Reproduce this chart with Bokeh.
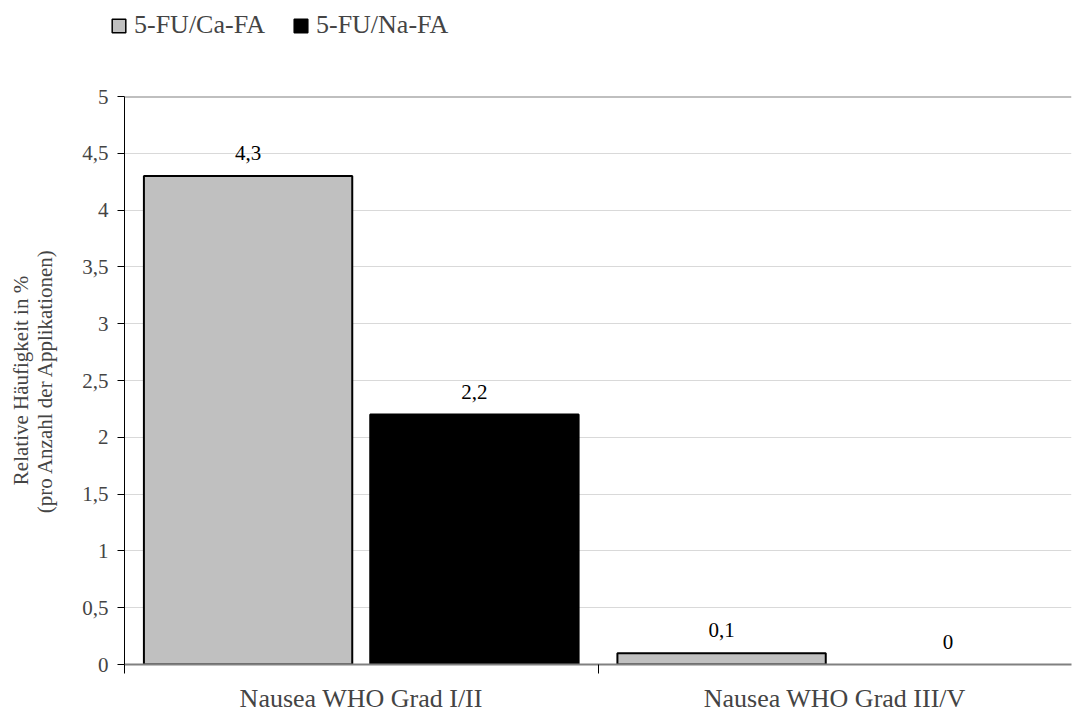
from bokeh.plotting import figure
from bokeh.layouts import column, row
from bokeh.models import (ColumnDataSource, FixedTicker, CustomJSTickFormatter,
                          Legend, LegendItem, Span, Range1d)
from bokeh.embed import file_html
from bokeh.resources import INLINE

# Data
categories = ["Nausea WHO Grad I/II", "Nausea WHO Grad III/V"]
series_names = ["5-FU/Ca-FA", "5-FU/Na-FA"]
series_colors = ["#c0c0c0", "black"]
ca_values = [4.3, 0.1]
na_values = [2.2, 0.0]
y_ticks = [0, 0.5, 1, 1.5, 2, 2.5, 3, 3.5, 4, 4.5, 5]

FONT = "Liberation Serif"
W = 1078
LEGEND_H = 80
offset = 0.239
bar_w = 0.44


def fmt(v):
    s = ("%.1f" % v).replace(".", ",")
    return s[:-2] if s.endswith(",0") else s


def make_source(values, shift):
    return ColumnDataSource(dict(
        x=[i + 0.5 + shift for i in range(len(values))],
        top=values,
        label=[fmt(v) for v in values],
        edge=["black" if v > 0 else None for v in values],
    ))


src_ca = make_source(ca_values, -offset)
src_na = make_source(na_values, offset)

# ---- main chart ----
p = figure(width=W, height=718 - LEGEND_H, output_backend="svg", toolbar_location=None,
           x_range=Range1d(0, len(categories)), y_range=Range1d(0, 5),
           min_border_left=124, min_border_right=7, min_border_bottom=54,
           min_border_top=16)
p.outline_line_color = None
p.background_fill_color = "white"

p.vbar(x="x", top="top", width=bar_w, source=src_ca, fill_color=series_colors[0],
       line_color="edge", line_width=2)
p.vbar(x="x", top="top", width=bar_w, source=src_na, fill_color=series_colors[1],
       line_color="edge", line_width=2)

for src in (src_ca, src_na):
    p.text(x="x", y="top", text="label", source=src, text_align="center",
           text_baseline="middle", y_offset=-23, text_font_size="21px",
           text_font=FONT, text_color="black")

# top boundary line
p.add_layout(Span(location=5, dimension="width", line_color="#808080", line_width=2))

# y axis
p.yaxis.ticker = FixedTicker(ticks=y_ticks)
p.yaxis.formatter = CustomJSTickFormatter(
    code="var s = tick.toFixed(1).replace('.', ','); return s.endsWith(',0') ? s.slice(0, -2) : s;")
p.yaxis.axis_label = "Relative Häufigkeit in %\n(pro Anzahl der Applikationen)"
p.yaxis.axis_label_text_font = FONT
p.yaxis.axis_label_text_font_size = "21px"
p.yaxis.axis_label_text_font_style = "normal"
p.yaxis.axis_label_text_line_height = 1.0
p.yaxis.axis_label_standoff = 22
p.yaxis.major_label_text_font = FONT
p.yaxis.major_label_text_font_size = "21px"
p.yaxis.major_label_standoff = 9
p.yaxis.axis_line_color = "black"
p.yaxis.major_tick_line_color = "black"
p.yaxis.major_tick_out = 7
p.yaxis.major_tick_in = 0
p.yaxis.minor_tick_line_color = None

# x axis: labels at category centres, ticks at boundaries
p.xaxis.ticker = FixedTicker(ticks=[i + 0.5 for i in range(len(categories))],
                             minor_ticks=list(range(len(categories))))
p.xaxis.major_label_overrides = {i + 0.5: c for i, c in enumerate(categories)}
p.xaxis.major_label_text_font = FONT
p.xaxis.major_label_text_font_size = "26px"
p.xaxis.major_label_standoff = 10
p.xaxis.major_tick_line_color = None
p.xaxis.major_tick_out = 0
p.xaxis.minor_tick_line_color = "black"
p.xaxis.minor_tick_out = 9
p.xaxis.minor_tick_in = 0
p.xaxis.axis_line_color = "#808080"
p.xaxis.axis_line_width = 2

p.xgrid.grid_line_color = None
p.ygrid.grid_line_color = "#d9d9d9"
p.ygrid.ticker = FixedTicker(ticks=y_ticks)

# ---- legend strip ----
lg = figure(width=W, height=LEGEND_H, output_backend="svg", toolbar_location=None,
            x_range=Range1d(0, 1), y_range=Range1d(0, 1), min_border=0,
            x_axis_location=None, y_axis_location=None)
lg.outline_line_color = None
lg.xgrid.grid_line_color = None
lg.ygrid.grid_line_color = None
# zero-size swatch renderers; only their legend glyphs are visible
swatches = [lg.vbar(x=[0.5], bottom=[-3], top=[-3], width=0, fill_color=c,
                    line_color="black", line_width=1.5) for c in series_colors]
legend = Legend(items=[LegendItem(label=n, renderers=[r])
                       for n, r in zip(series_names, swatches)],
                orientation="horizontal", location=(110, 40),
                label_text_font=FONT, label_text_font_size="26px",
                glyph_width=17, glyph_height=17, label_standoff=7, spacing=27,
                padding=0, margin=0, border_line_color=None,
                background_fill_alpha=0)
lg.add_layout(legend)

open("out.html", "w").write(file_html(column(row(lg), p, spacing=0), INLINE))
